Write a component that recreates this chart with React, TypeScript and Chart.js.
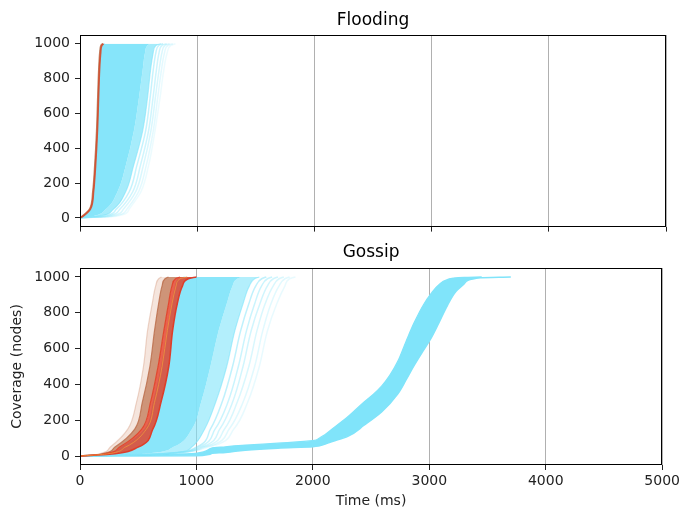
import React, { useEffect, useRef } from "react";
import { Chart, registerables } from "chart.js";

Chart.register(...registerables);

// Coverage levels (nodes) at which each run's arrival time (ms) is listed
const LEVELS = [0, 10, 50, 150, 300, 500, 700, 850, 950, 990, 1000];

const X_TICKS = [0, 1000, 2000, 3000, 4000, 5000];
const Y_TICKS = [0, 200, 400, 600, 800, 1000];

// Flooding runs: time (ms) at which each coverage level is reached
const FLOOD_BROWN = [0, 20, 82, 110, 127, 143, 153, 161, 170, 180, 195];
const FLOOD_RED = [0, 25, 88, 115, 132, 148, 158, 166, 176, 186, 200];
const FLOOD_FAST = [0, 28, 92, 118, 135, 151, 161, 170, 180, 192, 210];
const FLOOD_MID = [0, 110, 220, 320, 390, 460, 505, 535, 555, 575, 600];
const FLOOD_DENSE = [0, 160, 285, 390, 457, 535, 578, 602, 625, 648, 690];
const FLOOD_SLOW_1 = [0, 190, 310, 420, 485, 560, 600, 625, 648, 672, 710];
const FLOOD_SLOW_2 = [0, 220, 340, 450, 515, 585, 625, 652, 675, 700, 740];
const FLOOD_SLOW_3 = [0, 250, 370, 475, 540, 605, 645, 675, 700, 725, 765];
const FLOOD_SLOW_4 = [0, 280, 400, 500, 565, 625, 665, 695, 722, 750, 792];
const FLOOD_SLOW_5 = [0, 310, 420, 520, 585, 640, 685, 715, 745, 775, 815];

// Gossip runs
const GOSSIP_BROWN_FAINT = [0, 150, 260, 410, 485, 545, 580, 620, 650, 675, 700];
const GOSSIP_BROWN = [0, 170, 300, 470, 535, 600, 640, 675, 705, 730, 760];
const GOSSIP_RED_LEFT = [0, 190, 340, 530, 605, 670, 720, 760, 790, 820, 860];
const GOSSIP_ORANGE = [0, 210, 390, 570, 640, 705, 750, 790, 825, 860, 920];
const GOSSIP_RED_RIGHT = [0, 250, 500, 625, 695, 762, 795, 835, 880, 930, 1000];
const GOSSIP_FAST = [0, 200, 360, 560, 630, 700, 750, 790, 820, 850, 900];
const GOSSIP_MID = [0, 500, 800, 960, 1040, 1120, 1190, 1260, 1310, 1350, 1390];
const GOSSIP_DENSE = [0, 700, 960, 1070, 1165, 1260, 1330, 1400, 1455, 1500, 1540];
const GOSSIP_SLOW_1 = [0, 650, 1000, 1120, 1220, 1310, 1380, 1450, 1510, 1560, 1600];
const GOSSIP_SLOW_2 = [0, 650, 1020, 1160, 1270, 1360, 1430, 1500, 1560, 1610, 1650];
const GOSSIP_SLOW_3 = [0, 620, 1040, 1200, 1310, 1400, 1470, 1545, 1610, 1660, 1700];
const GOSSIP_SLOW_4 = [0, 620, 1060, 1240, 1350, 1450, 1520, 1590, 1660, 1710, 1750];
const GOSSIP_SLOW_5 = [0, 600, 1080, 1280, 1400, 1500, 1570, 1640, 1710, 1760, 1800];
const GOSSIP_SLOW_6 = [0, 600, 1100, 1320, 1440, 1540, 1610, 1690, 1760, 1800, 1850];

// Late gossip cluster: edges of the bundle as (time ms, coverage) pairs
const LATE_FAST_T = [0, 500, 990, 1130, 1250, 1420, 1700, 2000, 2050, 2100, 2160, 2300, 2440, 2520, 2590, 2660, 2730, 2800, 2870, 2950, 3013, 3080, 3155, 3300, 3450];
const LATE_FAST_Y = [0, 6, 15, 45, 52, 61, 72, 86, 98, 118, 148, 219, 302, 345, 390, 450, 530, 640, 745, 845, 905, 955, 985, 998, 1000];
const LATE_SLOW_T = [0, 1000, 1130, 1250, 1420, 1700, 2000, 2080, 2160, 2300, 2440, 2590, 2730, 2800, 2870, 2940, 3013, 3080, 3155, 3230, 3300, 3440, 3700];
const LATE_SLOW_Y = [0, 2, 15, 20, 33, 44, 52, 62, 80, 110, 172, 246, 348, 425, 506, 580, 655, 740, 840, 920, 962, 995, 1000];

type Pt = { x: number; y: number };
const atLevels = (times: number[]): Pt[] => times.map((t, i) => ({ x: t, y: LEVELS[i] }));
const zip = (ts: number[], ys: number[]): Pt[] => ts.map((t, i) => ({ x: t, y: ys[i] }));

const FONT = "'DejaVu Sans', sans-serif";
const CYAN = "rgb(128, 228, 250)";
const cyanA = (a: number) => `rgba(128, 228, 250, ${a})`;
const NONE = "rgba(0, 0, 0, 0)";

function run(points: Pt[], color: string, width = 1.5): any {
  return {
    data: points,
    borderColor: color,
    borderWidth: width,
    pointRadius: 0,
    fill: false,
    cubicInterpolationMode: "monotone",
  };
}

function band(points: Pt[], edge: string, area: string): any {
  return { ...run(points, edge, 1.2), fill: "+1", backgroundColor: area };
}

// black frame around the plotting area (all four spines)
const framePlugin = {
  id: "frame",
  afterDatasetsDraw(chart: any) {
    const { ctx, chartArea: a } = chart;
    ctx.save();
    ctx.strokeStyle = "#000";
    ctx.lineWidth = 1;
    ctx.strokeRect(
      Math.round(a.left) + 0.5,
      Math.round(a.top) + 0.5,
      Math.round(a.right - a.left) - 1,
      Math.round(a.bottom - a.top) - 1
    );
    ctx.restore();
  },
};

const plainNumber = (v: any) => String(v);

function makeScales(showXLabels: boolean, showYTitle: boolean, xHeight: number): any {
  return {
    x: {
      type: "linear",
      min: 0,
      max: 5000,
      afterBuildTicks: (s: any) => {
        s.ticks = X_TICKS.map((v) => ({ value: v }));
      },
      afterFit: (s: any) => {
        s.height = xHeight;
      },
      grid: { color: "#b0b0b0", lineWidth: 1, tickColor: "#222", tickLength: 5, drawTicks: true },
      border: { display: false },
      ticks: {
        display: showXLabels,
        color: "#222",
        font: { family: FONT, size: 14 },
        padding: 3,
        maxRotation: 0,
        callback: plainNumber,
      },
      title: {
        display: showXLabels,
        text: "Time (ms)",
        color: "#222",
        font: { family: FONT, size: 14 },
        padding: { top: 0, bottom: 0 },
      },
    },
    y: {
      type: "linear",
      min: -50,
      max: 1050,
      afterBuildTicks: (s: any) => {
        s.ticks = Y_TICKS.map((v) => ({ value: v }));
      },
      afterFit: (s: any) => {
        s.width = 80;
      },
      grid: { drawOnChartArea: false, tickColor: "#222", tickLength: 5 },
      border: { display: false },
      ticks: { color: "#222", font: { family: FONT, size: 14 }, padding: 5, callback: plainNumber },
      title: {
        display: showYTitle,
        text: "Coverage (nodes)",
        color: "#222",
        font: { family: FONT, size: 14 },
        padding: { top: 8.6, bottom: 0 },
      },
    },
  };
}

function makeOptions(title: string, padTop: number, padBottom: number, showXLabels: boolean, xHeight: number): any {
  return {
    // runs are listed as time per coverage level, so coverage is the index axis
    indexAxis: "y",
    responsive: false,
    animation: false,
    devicePixelRatio: 1,
    layout: { padding: { left: 0, right: 17, top: 0, bottom: 0 } },
    scales: makeScales(showXLabels, showXLabels, xHeight),
    plugins: {
      legend: { display: false },
      tooltip: { enabled: false },
      title: {
        display: true,
        text: title,
        fullSize: false,
        color: "#000",
        font: { family: FONT, size: 17, weight: "normal" },
        padding: { top: padTop, bottom: padBottom },
      },
    },
  };
}

function floodingDatasets(): any[] {
  return [
    run(atLevels(FLOOD_RED), "rgba(214, 72, 40, 0.85)", 1.8),
    run(atLevels(FLOOD_BROWN), "rgba(176, 110, 72, 0.8)", 1.8),
    run(atLevels(FLOOD_SLOW_1), cyanA(0.45)),
    run(atLevels(FLOOD_SLOW_2), cyanA(0.38)),
    run(atLevels(FLOOD_SLOW_3), cyanA(0.3)),
    run(atLevels(FLOOD_SLOW_4), cyanA(0.22)),
    run(atLevels(FLOOD_SLOW_5), cyanA(0.15)),
    band(atLevels(FLOOD_FAST), CYAN, cyanA(0.95)),
    band(atLevels(FLOOD_MID), NONE, cyanA(0.7)),
    run(atLevels(FLOOD_DENSE), cyanA(0.6), 1.2),
  ];
}

function gossipDatasets(): any[] {
  return [
    run(atLevels(GOSSIP_ORANGE), "rgba(240, 150, 60, 0.8)", 1),
    band(atLevels(GOSSIP_RED_LEFT), "rgba(225, 60, 35, 0.85)", "rgba(228, 62, 38, 0.82)"),
    run(atLevels(GOSSIP_RED_RIGHT), "rgba(225, 45, 25, 0.9)", 1.6),
    band(atLevels(GOSSIP_BROWN), "rgba(185, 105, 70, 0.8)", "rgba(190, 112, 75, 0.75)"),
    run(atLevels(GOSSIP_RED_LEFT), NONE, 1),
    band(atLevels(GOSSIP_BROWN_FAINT), "rgba(205, 140, 110, 0.35)", "rgba(215, 150, 120, 0.25)"),
    run(atLevels(GOSSIP_BROWN), NONE, 1),
    run(atLevels(GOSSIP_SLOW_1), cyanA(0.5)),
    run(atLevels(GOSSIP_SLOW_2), cyanA(0.42)),
    run(atLevels(GOSSIP_SLOW_3), cyanA(0.36)),
    run(atLevels(GOSSIP_SLOW_4), cyanA(0.3)),
    run(atLevels(GOSSIP_SLOW_5), cyanA(0.24)),
    run(atLevels(GOSSIP_SLOW_6), cyanA(0.18)),
    band(atLevels(GOSSIP_FAST), CYAN, cyanA(0.92)),
    band(atLevels(GOSSIP_MID), NONE, cyanA(0.6)),
    run(atLevels(GOSSIP_DENSE), cyanA(0.6), 1.2),
    band(zip(LATE_FAST_T, LATE_FAST_Y), CYAN, CYAN),
    run(zip(LATE_SLOW_T, LATE_SLOW_Y), CYAN, 1.5),
  ];
}

export default function App() {
  const topRef = useRef<HTMLCanvasElement | null>(null);
  const bottomRef = useRef<HTMLCanvasElement | null>(null);

  useEffect(() => {
    const charts: Chart[] = [];
    if (topRef.current) {
      charts.push(
        new Chart(topRef.current, {
          type: "line",
          data: { datasets: floodingDatasets() },
          options: makeOptions("Flooding", 10.8, 3.8, false, 9),
          plugins: [framePlugin],
        } as any)
      );
    }
    if (bottomRef.current) {
      charts.push(
        new Chart(bottomRef.current, {
          type: "line",
          data: { datasets: gossipDatasets() },
          options: makeOptions("Gossip", 7.3, 5.3, true, 45),
          plugins: [framePlugin],
        } as any)
      );
    }
    return () => charts.forEach((c) => c.destroy());
  }, []);

  return (
    <div style={{ position: "fixed", left: 0, top: 0, width: 683, height: 510, background: "#fff" }}>
      <canvas ref={topRef} width={683} height={240} style={{ position: "absolute", left: 0, top: 0 }} />
      <canvas ref={bottomRef} width={683} height={275} style={{ position: "absolute", left: 0, top: 235 }} />
    </div>
  );
}
